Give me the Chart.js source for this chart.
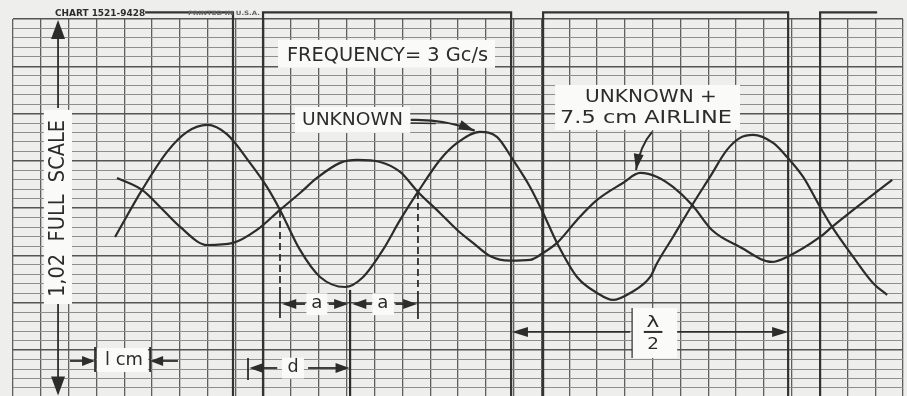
<!DOCTYPE html>
<html>
<head>
<meta charset="utf-8">
<script src="https://cdn.jsdelivr.net/npm/chart.js@4.4.1/dist/chart.umd.min.js"></script>
<style>
  html, body { margin: 0; padding: 0; background: #eeeeec; overflow: hidden; }
  #wrap { width: 907px; height: 412px; }
</style>
</head>
<body>
<div id="wrap"><canvas id="chart" width="907" height="412"></canvas></div>
<script>
/* ---- Data (x in chart divisions, y in chart divisions, 0 = bottom) ---- */

const unknownX = [3.67, 4.64, 5.54, 6.26, 6.98, 7.70, 8.52, 9.13, 9.60,
  10.32, 11.04, 11.94, 12.59, 13.30, 13.92, 14.56, 15.35, 15.97, 16.79,
  17.40, 17.98, 18.59, 19.06, 19.56, 20.28, 21.00, 21.57, 22.19, 22.91,
  23.16, 23.73, 24.42, 25.06, 25.67, 26.14, 26.61, 27.33, 27.83, 28.41,
  29.02, 29.45, 30.21, 30.92, 31.43];
const unknownY = [16.96, 21.93, 25.95, 28.06, 28.80, 27.80, 24.79, 22.25, 19.82,
  15.59, 12.73, 11.67, 12.73, 15.59, 18.76, 21.72, 25.10, 26.90, 28.06,
  27.54, 25.10, 22.25, 19.50, 16.33, 12.73, 11.04, 10.30, 11.04, 12.73,
  14.21, 16.96, 20.34, 23.31, 26.16, 27.43, 27.75, 26.90, 25.42, 23.31,
  20.13, 18.02, 14.85, 12.10, 10.83];

const airlineX = [3.74, 4.64, 5.29, 6.01, 6.98, 7.91, 8.77, 9.60, 10.32, 10.93,
  11.76, 12.37, 13.20, 13.92, 14.56, 15.35, 15.97, 16.54, 17.15,
  17.87, 18.59, 19.06, 19.56, 20.28, 21.00, 21.93, 22.55, 23.16, 23.73,
  24.42, 25.13, 26.14, 27.29, 27.83, 29.02, 29.45, 30.35, 31.61];
const airlineY = [23.20, 21.93, 20.13, 18.02, 16.11, 16.33, 17.70, 19.82, 21.61, 23.20,
  24.79, 25.10, 24.89, 23.83, 21.72, 19.50, 17.70, 16.33, 14.95,
  14.45, 14.53, 15.27, 16.33, 18.76, 20.87, 22.67, 23.73, 23.31, 22.25,
  20.34, 17.70, 15.90, 14.32, 14.85, 16.96, 18.02, 20.13, 22.99];

// event-marker pen: high above the grid, low off the bottom of the paper
const markerX = [4.75, 7.91, 7.91, 8.99, 8.99, 17.91, 17.91, 19.06, 19.06, 27.87, 27.87, 29.02, 29.02, 31.07];
const markerY = [40.7, 40.7, -1.5, -1.5, 40.7, 40.7, -1.5, -1.5, 40.7, 40.7, -1.5, -1.5, 40.7, 40.7];

const X_MAX = 32;
const Y_MAX = 40;

const INK = "#2c2c2c";
const FONT = '"DejaVu Sans"';

function pts(xs, ys) {
  return xs.map((x, i) => ({ x, y: ys[i] }));
}

/* ---- Drawing helpers for the hand-lettered annotations ---- */

function arrowHead(ctx, tx, ty, ang, len, half) {
  ctx.beginPath();
  ctx.moveTo(tx, ty);
  ctx.lineTo(tx - len * Math.cos(ang) + half * Math.sin(ang), ty - len * Math.sin(ang) - half * Math.cos(ang));
  ctx.lineTo(tx - len * Math.cos(ang) - half * Math.sin(ang), ty - len * Math.sin(ang) + half * Math.cos(ang));
  ctx.closePath();
  ctx.fill();
}

function arrow(ctx, x1, y1, x2, y2, len = 14, half = 5) {
  const ang = Math.atan2(y2 - y1, x2 - x1);
  ctx.beginPath();
  ctx.moveTo(x1, y1);
  ctx.lineTo(x2 - Math.cos(ang) * len * 0.7, y2 - Math.sin(ang) * len * 0.7);
  ctx.stroke();
  arrowHead(ctx, x2, y2, ang, len, half);
}

function curvedArrow(ctx, x1, y1, cx, cy, x2, y2, len = 14, half = 5) {
  ctx.beginPath();
  ctx.moveTo(x1, y1);
  ctx.quadraticCurveTo(cx, cy, x2, y2);
  ctx.stroke();
  arrowHead(ctx, x2, y2, Math.atan2(y2 - cy, x2 - cx), len, half);
}

function line(ctx, x1, y1, x2, y2) {
  ctx.beginPath();
  ctx.moveTo(x1, y1);
  ctx.lineTo(x2, y2);
  ctx.stroke();
}

// text squeezed/stretched to span x1..x2, centred vertically on yc
function fitText(ctx, str, x1, x2, yc, size, weight = "normal") {
  ctx.font = `${weight} ${size}px ${FONT}`;
  const w = ctx.measureText(str).width;
  ctx.save();
  ctx.translate((x1 + x2) / 2, yc);
  ctx.scale((x2 - x1) / w, 1);
  ctx.textAlign = "center";
  ctx.textBaseline = "middle";
  ctx.fillText(str, 0, 0);
  ctx.restore();
}

function box(ctx, x1, y1, x2, y2) {
  ctx.fillStyle = "#fafaf9";
  ctx.fillRect(x1, y1, x2 - x1, y2 - y1);
}

/* ---- Plugins ---- */

const labelBoxes = {
  id: "labelBoxes",
  beforeDatasetsDraw(chart) {
    const { ctx } = chart;
    const X = (v) => chart.scales.x.getPixelForValue(v);
    const Y = (v) => chart.scales.y.getPixelForValue(v);
    ctx.save();
    box(ctx, X(9.53), Y(37.79), X(17.33), Y(34.83));   // frequency
    box(ctx, X(10.14), Y(30.71), X(14.28), Y(27.96));  // unknown
    box(ctx, X(19.49), Y(33.03), X(26.14), Y(28.27));  // unknown + airline
    box(ctx, X(1.11), Y(30.39), X(2.12), Y(9.87));     // full scale
    box(ctx, X(3.02), Y(5.22), X(4.85), Y(2.69));      // 1 cm
    box(ctx, X(10.55), Y(11.0), X(11.3), Y(8.7));      // a
    box(ctx, X(12.92), Y(11.0), X(13.7), Y(8.7));      // a
    box(ctx, X(9.67), Y(4.2), X(10.46), Y(2.0));       // d
    box(ctx, X(22.26), Y(9.45), X(23.88), Y(4.17));    // lambda/2
    ctx.restore();
  },
};

const annotations = {
  id: "annotations",
  afterDatasetsDraw(chart) {
    const { ctx } = chart;
    const X = (v) => chart.scales.x.getPixelForValue(v);
    const Y = (v) => chart.scales.y.getPixelForValue(v);
    ctx.save();
    ctx.fillStyle = INK;
    ctx.strokeStyle = INK;
    ctx.lineWidth = 1.8;

    // paper header
    fitText(ctx, "CHART 1521-9428", X(1.51), X(4.75), Y(40.49), 8, "bold");
    ctx.fillStyle = "#666";
    fitText(ctx, "PRINTED IN U.S.A.", X(6.29), X(8.88), Y(40.62), 6, "bold");
    ctx.fillStyle = INK;

    // text labels
    fitText(ctx, "FREQUENCY= 3 Gc/s", X(9.85), X(17.08), Y(36.15), 20);
    fitText(ctx, "UNKNOWN", X(10.39), X(14.02), Y(29.33), 18);
    fitText(ctx, "UNKNOWN +", X(20.57), X(25.31), Y(31.66), 17);
    fitText(ctx, "7.5 cm AIRLINE", X(19.67), X(25.85), Y(29.49), 17);

    // label arrows
    ctx.lineWidth = 2.2;
    curvedArrow(ctx, X(14.3), Y(29.33), X(15.5), Y(29.45), X(16.6), Y(28.2), 16, 5);
    ctx.lineWidth = 1.4;
    line(ctx, X(14.3), Y(29.0), X(15.2), Y(28.95));
    ctx.lineWidth = 2;
    curvedArrow(ctx, X(22.98), Y(28.06), X(22.55), Y(26.6), X(22.40), Y(24.04), 16, 5);

    // full-scale arrow and rotated label
    ctx.lineWidth = 1.8;
    arrow(ctx, X(1.62), Y(30.59), X(1.62), Y(39.9), 19, 7);
    arrow(ctx, X(1.62), Y(9.87), X(1.62), Y(0.2), 19, 7);
    ctx.save();
    ctx.translate(X(1.64), Y(19.97));
    ctx.rotate(-Math.PI / 2);
    const half = (Y(10.62) - Y(29.34)) / 2;
    fitText(ctx, "1,02  FULL  SCALE", -half, half, 0, 21);
    ctx.restore();

    // 1 cm scale
    ctx.lineWidth = 1.8;
    arrow(ctx, X(2.05), Y(3.85), X(2.95), Y(3.85), 13, 5);
    line(ctx, X(2.95), Y(5.33), X(2.95), Y(2.69));
    arrow(ctx, X(5.93), Y(3.85), X(4.93), Y(3.85), 13, 5);
    line(ctx, X(4.93), Y(5.33), X(4.93), Y(2.69));
    fitText(ctx, "l cm", X(3.31), X(4.67), Y(3.95), 18);

    // a / a dimensions
    ctx.setLineDash([7, 4]);
    line(ctx, X(9.60), Y(19.82), X(9.60), Y(11.14));
    line(ctx, X(14.56), Y(21.72), X(14.56), Y(11.14));
    ctx.setLineDash([]);
    line(ctx, X(9.60), Y(11.14), X(9.60), Y(8.40));
    line(ctx, X(14.56), Y(11.14), X(14.56), Y(8.29));
    arrow(ctx, X(10.5), Y(9.87), X(9.68), Y(9.87), 14, 5);
    arrow(ctx, X(11.35), Y(9.87), X(12.05), Y(9.87), 14, 5);
    arrow(ctx, X(12.9), Y(9.87), X(12.2), Y(9.87), 14, 5);
    arrow(ctx, X(13.75), Y(9.87), X(14.53), Y(9.87), 14, 5);
    fitText(ctx, "a", X(10.72), X(11.12), Y(9.95), 17);
    fitText(ctx, "a", X(13.1), X(13.5), Y(9.95), 17);

    // d dimension
    ctx.lineWidth = 2.2;
    line(ctx, X(12.12), Y(11.36), X(12.12), Y(-1));
    ctx.lineWidth = 1.8;
    line(ctx, X(8.45), Y(4.17), X(8.45), Y(1.84));
    arrow(ctx, X(9.5), Y(3.11), X(8.5), Y(3.11), 14, 5);
    arrow(ctx, X(10.61), Y(3.11), X(12.1), Y(3.11), 14, 5);
    fitText(ctx, "d", X(9.87), X(10.27), Y(3.2), 17);

    // lambda / 2
    arrow(ctx, X(22.19), Y(6.92), X(17.94), Y(6.92), 16, 5);
    arrow(ctx, X(23.88), Y(6.92), X(27.87), Y(6.92), 16, 5);
    ctx.lineWidth = 1.2;
    line(ctx, X(22.26), Y(9.45), X(22.26), Y(4.17));
    ctx.lineWidth = 2;
    line(ctx, X(22.68), Y(6.92), X(23.35), Y(6.92));
    fitText(ctx, "λ", X(22.78), X(23.24), Y(7.85), 16);
    fitText(ctx, "2", X(22.8), X(23.22), Y(5.6), 16);

    ctx.restore();
  },
};

/* ---- Chart ---- */

const ctx = document.getElementById("chart").getContext("2d");

new Chart(ctx, {
  type: "line",
  data: {
    datasets: [
      {
        label: "Unknown",
        data: pts(unknownX, unknownY),
        borderColor: INK,
        borderWidth: 2.2,
        cubicInterpolationMode: "monotone",
        pointRadius: 0,
      },
      {
        label: "Unknown + 7.5 cm airline",
        data: pts(airlineX, airlineY),
        borderColor: INK,
        borderWidth: 2.2,
        cubicInterpolationMode: "monotone",
        pointRadius: 0,
      },
      {
        label: "Event marker",
        data: pts(markerX, markerY),
        borderColor: "#333",
        borderWidth: 2.2,
        tension: 0,
        pointRadius: 0,
        clip: false,
      },
    ],
  },
  options: {
    responsive: false,
    animation: false,
    events: [],
    layout: { padding: { left: 13, top: 19, right: 4, bottom: 14.6 } },
    plugins: {
      legend: { display: false },
      tooltip: { enabled: false },
    },
    scales: {
      x: {
        type: "linear",
        min: 0,
        max: X_MAX,
        border: { display: false },
        grid: { color: "#5f5f5f", lineWidth: 1.3, drawTicks: false },
        ticks: { display: false, stepSize: 1, maxTicksLimit: 100, autoSkip: false, padding: 0 },
      },
      y: {
        type: "linear",
        min: 0,
        max: Y_MAX,
        border: { display: false },
        grid: {
          color: (c) => (c.tick.value % 5 === 0 ? "#555" : "#8e8e8e"),
          lineWidth: (c) => (c.tick.value % 5 === 0 ? 1.6 : 1),
          drawTicks: false,
        },
        ticks: { display: false, stepSize: 1, maxTicksLimit: 100, autoSkip: false, padding: 0 },
      },
    },
  },
  plugins: [labelBoxes, annotations],
});
</script>
</body>
</html>
